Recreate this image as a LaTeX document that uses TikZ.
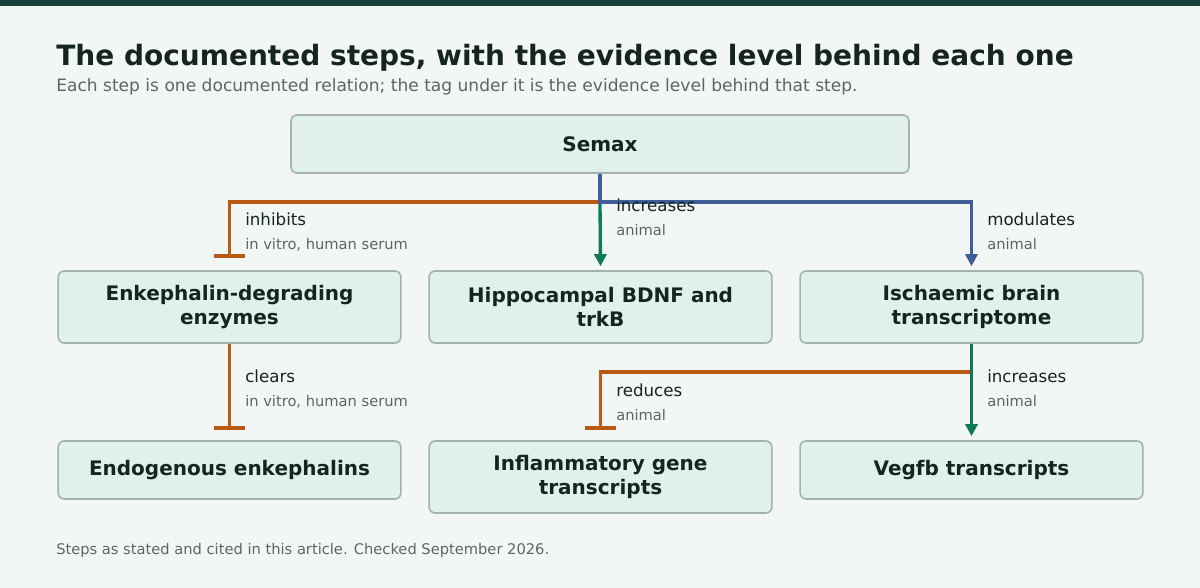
\documentclass[tikz,border=0pt]{standalone}
\usepackage{fontspec}
\setmainfont{DejaVu Sans}
\usetikzlibrary{arrows.meta,positioning}
\definecolor{bgc}{HTML}{F2F6F5}
\definecolor{barc}{HTML}{173F3C}
\definecolor{boxc}{HTML}{E2F0EB}
\definecolor{edgec}{HTML}{A3B2AD}
\definecolor{inkc}{HTML}{152420}
\definecolor{greyc}{HTML}{5B6763}
\definecolor{orc}{HTML}{B85A14}
\definecolor{grc}{HTML}{0E7A58}
\definecolor{blc}{HTML}{3F5E98}
\tikzset{
  box/.style={draw=edgec,line width=1.2pt,fill=boxc,rounded corners=4.5pt,
    text=inkc,font=\fontsize{15}{18}\selectfont\bfseries,align=center,inner sep=0pt},
  verb/.style={anchor=base west,text=inkc,font=\fontsize{12.5}{15}\selectfont,inner sep=0pt},
  tag/.style={anchor=base west,text=greyc,font=\fontsize{11}{13}\selectfont,inner sep=0pt},
  link/.style={line width=2.5pt},
  up/.style={link,-{Triangle[length=9pt,width=9pt]}},
  down/.style={link,-{Bar[width=23pt,line width=2.8pt]}}
}
\begin{document}
\begin{tikzpicture}[x=0.75pt,y=-0.75pt]
  \fill[bgc] (0,0) rectangle (1200,588);
  \fill[barc] (0,0) rectangle (1200,6);
  \useasboundingbox (0,0) rectangle (1200,588);

  % title
  \node[anchor=base west,inner sep=0pt,text=inkc,font=\fontsize{21}{25}\selectfont\bfseries]
    (title) at (56,66) {The documented steps, with the evidence level behind each one};
  \node[anchor=base west,inner sep=0pt,text=greyc,font=\fontsize{12.8}{15}\selectfont]
    (sub) at (56,92) {Each step is one documented relation; the tag under it is the evidence level behind that step.};

  % boxes
  \node[box,minimum width=463.5pt,minimum height=43.5pt] (semax) at (600,144) {Semax};
  \node[box,minimum width=257pt,minimum height=54pt] (enz) at (229.5,307) {Enkephalin-degrading\\enzymes};
  \node[box,minimum width=257pt,minimum height=54pt] (bdnf) at (600.5,307) {Hippocampal BDNF and\\trkB};
  \node[box,minimum width=257pt,minimum height=54pt] (isch) at (971.5,307) {Ischaemic brain\\transcriptome};
  \node[box,minimum width=257pt,minimum height=43.5pt] (enk) at (229.5,470) {Endogenous enkephalins};
  \node[box,minimum width=257pt,minimum height=54pt] (infl) at (600.5,477) {Inflammatory gene\\transcripts};
  \node[box,minimum width=257pt,minimum height=43.5pt] (vegf) at (971.5,470) {Vegfb transcripts};

  % connectors
  \coordinate (split) at (600,202);
  \coordinate (fork) at (971,372);
  \draw[down,orc] (split) -| ([yshift=9pt]enz.north);
  \draw[up,grc] (split) -- ([yshift=3pt]bdnf.north);
  \draw[up,blc] (semax.south) -- (split) -| ([yshift=3pt]isch.north);
  \draw[down,orc] (enz.south) -- ([yshift=8pt]enk.north);
  \draw[down,orc] (fork) -| ([yshift=8pt]infl.north);
  \draw[up,grc] (isch.south) -- ([yshift=3pt]vegf.north);

  % labels
  \node[verb] (l1) at (245,225) {inhibits};
  \node[tag] (t1) at (245,249) {in vitro, human serum};
  \node[verb] (l2) at (616,212) {increases};
  \node[tag] (t2) at (616,236) {animal};
  \node[verb] (l3) at (987,226) {modulates};
  \node[tag] (t3) at (987,249) {animal};
  \node[verb] (l4) at (245,382) {clears};
  \node[tag] (t4) at (245,406) {in vitro, human serum};
  \node[verb] (l5) at (616,396) {reduces};
  \node[tag] (t5) at (616,420) {animal};
  \node[verb] (l6) at (987,382) {increases};
  \node[tag] (t6) at (987,406) {animal};

  % footer
  \node[anchor=base west,inner sep=0pt,text=greyc,font=\fontsize{11}{13}\selectfont]
    (foot) at (56,554) {Steps as stated and cited in this article. Checked September 2026.};
\end{tikzpicture}
\end{document}
